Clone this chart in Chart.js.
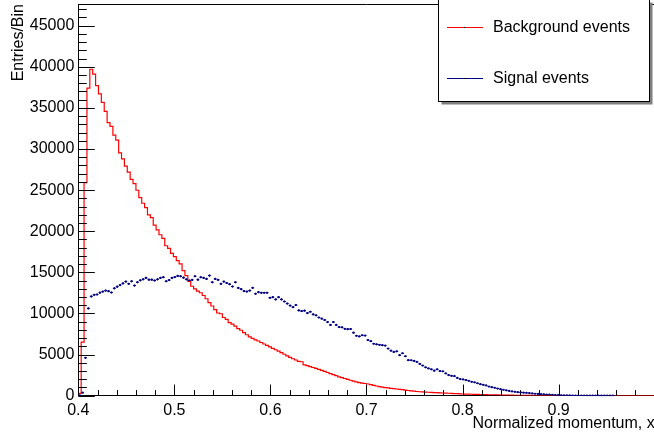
<!DOCTYPE html>
<html>
<head>
<meta charset="utf-8">
<script src="https://cdn.jsdelivr.net/npm/chart.js@4.4.1/dist/chart.umd.min.js"></script>
<style>
  html, body { margin: 0; padding: 0; background: #fff; overflow: hidden; }
  #wrap { width: 654px; height: 436px; overflow: hidden; }
  canvas { display: block; }
</style>
</head>
<body>
<div id="wrap"><canvas id="momentum" width="660" height="436"></canvas></div>
<script>
// 200 bins between 0.4 and 1.0
const binLow = 0.4;
const binHigh = 1.0;
const nBins = 200;

const background = [
  280, 6500, 25900, 37400, 39700, 39100, 37700, 36700, 35670, 34580,
  33200, 32760, 31700, 31070, 29530, 28800, 27920, 27190, 26310, 25780,
  24980, 24080, 23400, 22870, 21990, 21660, 20740, 20170, 19570, 19120,
  18230, 17910, 17300, 16900, 16420, 16020, 15210, 14600, 13900, 13300,
  12990, 12700, 12510, 12180, 11780, 11300, 10900, 10450, 10050, 9960,
  9500, 9270, 8870, 8700, 8450, 8150, 7950, 7650, 7400, 7150,
  6950, 6780, 6640, 6460, 6280, 6100, 5930, 5750, 5580, 5400,
  5220, 5030, 4830, 4640, 4480, 4330, 4170, 4120, 3750, 3640,
  3530, 3420, 3300, 3190, 3070, 2940, 2810, 2680, 2550, 2420,
  2290, 2180, 2080, 1970, 1870, 1770, 1670, 1580, 1520, 1470,
  1410, 1340, 1250, 1170, 1090, 1030, 980, 930, 870, 840,
  800, 760, 720, 670, 620, 580, 540, 500, 470, 450,
  430, 410, 390, 370, 350, 330, 315, 300, 285, 270,
  250, 230, 210, 195, 185, 175, 165, 155, 145, 135,
  125, 115, 105, 95, 88, 80, 72, 65, 58, 52,
  46, 40, 35, 30, 26, 22, 19, 16, 13, 11,
  9, 7, 6, 5, 4, 3, 2, 2, 1, 1,
  1, 0, 0, 0, 0, 0, 0, 0, 0, 0,
  0, 0, 0, 0, 0, 0, 0, 0, 0, 0,
  0, 0, 0, 0, 0, 0, 0, 0, 0, 0
];

const signal = [
  30, 350, 4600, 10600, 12060, 12260, 12300, 12520, 12650, 12780,
  12700, 12540, 13050, 13250, 13450, 13650, 13870, 13600, 13910, 13390,
  13790, 14020, 14150, 14320, 14100, 14100, 14000, 14150, 14320, 14400,
  13910, 14050, 14320, 14420, 14560, 14520, 14350, 14150, 14000, 14080,
  14520, 14100, 14400, 14320, 14200, 14600, 13790, 14200, 14080, 13600,
  13870, 13700, 13550, 13270, 13790, 13100, 12950, 12720, 12660, 12780,
  13110, 12390, 12580, 12510, 12510, 12510, 11900, 11970, 11700, 11970,
  11700, 11450, 11200, 10950, 10760, 11010, 10360, 10280, 10330, 10040,
  10200, 9880, 9760, 9500, 9360, 9200, 8950, 8600, 8950, 8600,
  8340, 8300, 8120, 8080, 8100, 7650, 7280, 7200, 7340, 7300,
  6750, 6620, 6310, 6240, 6180, 6130, 6080, 5720, 5460, 5310,
  5390, 4920, 5150, 4790, 4310, 4300, 4220, 4100, 3850, 3650,
  3440, 3310, 3200, 3030, 3200, 2980, 2950, 2700, 2500, 2400,
  2370, 2150, 2010, 1970, 1890, 1800, 1680, 1610, 1500, 1390,
  1310, 1240, 1100, 1020, 950, 860, 780, 710, 640, 570,
  510, 465, 420, 390, 360, 335, 310, 265, 225, 200,
  180, 165, 135, 110, 90, 70, 50, 38, 30, 24,
  19, 15, 12, 10, 8, 6, 5, 4, 3, 3,
  2, 2, 1, 1, 1, 1, 0, 0, 0, 0,
  0, 0, 0, 0, 0, 0, 0, 0, 0, 0
];

const seriesNames = ['Background events', 'Signal events'];
const seriesColors = ['#ff0000', '#000080'];

const xTicks = [0.4, 0.5, 0.6, 0.7, 0.8, 0.9];
const yTicks = [0, 5000, 10000, 15000, 20000, 25000, 30000, 35000, 40000, 45000];

const FONT = '"Liberation Sans", Arial, Helvetica, sans-serif';
const binWidth = (binHigh - binLow) / nBins;
const edge = i => binLow + i * binWidth;
const yMax = Math.max(...background) * 1.2;

// histogram outline: one point per low bin edge, stepped to the right
const bgSteps = [{ x: binLow, y: 0 }];
background.forEach((v, i) => bgSteps.push({ x: edge(i), y: v }));
bgSteps.push({ x: binHigh, y: background[nBins - 1] });

const sigPoints = signal.map((v, i) => ({ x: edge(i) + binWidth / 2, y: v > 0 ? v : null }));

// no extra room for half-labels at the scale ends
const noEndPadding = s => {
  s.paddingTop = 0;
  s.paddingBottom = 0;
  s.paddingLeft = 0;
  s.paddingRight = 0;
};

// inward ticks + frame, ROOT style
const frame = {
  id: 'frame',
  afterDatasetsDraw(chart) {
    const { ctx, chartArea: a, scales: { x, y } } = chart;
    ctx.save();
    ctx.strokeStyle = '#000';
    ctx.lineWidth = 1;
    ctx.beginPath();
    const top = Math.round(a.top) + 0.5;
    ctx.moveTo(a.left, top);
    ctx.lineTo(a.right, top);
    for (let k = 0; k <= 30; k++) {
      const px = Math.round(x.getPixelForValue(binLow + k * 0.02)) + 0.5;
      const len = k % 5 === 0 ? 11 : 5.5;
      ctx.moveTo(px, a.bottom);
      ctx.lineTo(px, a.bottom - len);
    }
    for (let v = 0; v <= yMax; v += 1000) {
      const py = Math.round(y.getPixelForValue(v)) + 0.5;
      const len = v % 5000 === 0 ? 16.5 : 8.5;
      ctx.moveTo(a.left, py);
      ctx.lineTo(a.left + len, py);
    }
    ctx.stroke();
    ctx.restore();
  }
};

// error bars for the signal points: full bin width, +-sqrt(N)
const errorBars = {
  id: 'errorBars',
  afterDatasetsDraw(chart) {
    const { ctx, scales: { x, y } } = chart;
    ctx.save();
    ctx.strokeStyle = seriesColors[1];
    ctx.lineWidth = 1;
    ctx.beginPath();
    signal.forEach((v, i) => {
      if (v <= 0) return;
      const e = Math.sqrt(v);
      const cx = x.getPixelForValue(edge(i) + binWidth / 2);
      const cy = y.getPixelForValue(v);
      ctx.moveTo(x.getPixelForValue(edge(i)), cy);
      ctx.lineTo(x.getPixelForValue(edge(i + 1)), cy);
      ctx.moveTo(cx, y.getPixelForValue(Math.max(0, v - e)));
      ctx.lineTo(cx, y.getPixelForValue(v + e));
    });
    ctx.stroke();
    ctx.restore();
  }
};

const legendBox = {
  id: 'legendBox',
  afterDraw(chart) {
    const { ctx } = chart;
    const bx = 438.5, by = -0.5, bw = 211, bh = 102;
    ctx.save();
    ctx.fillStyle = '#7f7f7f';
    ctx.fillRect(bx + 3, by + 3, bw, bh);
    ctx.fillStyle = '#fff';
    ctx.fillRect(bx, by, bw, bh);
    ctx.strokeStyle = '#000';
    ctx.lineWidth = 1;
    ctx.strokeRect(bx, by, bw, bh);
    ctx.font = '16px ' + FONT;
    ctx.textBaseline = 'middle';
    chart.data.datasets.forEach((ds, i) => {
      const ly = [27, 78][i];
      ctx.fillStyle = seriesColors[i];
      ctx.fillRect(447, ly, 36, 1);
      ctx.fillStyle = '#000';
      ctx.fillRect(464, ly, 1, 1);
      ctx.fillText(ds.label, 493, ly + 0.5);
    });
    ctx.restore();
  }
};

new Chart(document.getElementById('momentum'), {
  type: 'line',
  data: {
    datasets: [{
      label: seriesNames[0],
      data: bgSteps,
      borderColor: seriesColors[0],
      borderWidth: 1.2,
      stepped: 'before',
      pointRadius: 0,
      fill: false
    }, {
      label: seriesNames[1],
      data: sigPoints,
      borderColor: seriesColors[1],
      backgroundColor: seriesColors[1],
      showLine: false,
      pointRadius: 1.1,
      pointBorderWidth: 0
    }]
  },
  options: {
    responsive: false,
    animation: false,
    devicePixelRatio: 1,
    layout: { padding: { top: 1.7, right: 5.3, left: 0, bottom: 0 } },
    plugins: { legend: { display: false }, tooltip: { enabled: false } },
    scales: {
      x: {
        type: 'linear',
        min: binLow,
        max: binHigh,
        grid: { display: false, drawTicks: false },
        border: { display: true, color: '#000', width: 1 },
        afterBuildTicks: s => { s.ticks = xTicks.map(v => ({ value: v })); },
        afterFit: s => { s.height = 40.4; noEndPadding(s); },
        ticks: {
          color: '#000',
          padding: 5,
          maxRotation: 0,
          autoSkip: false,
          font: { family: FONT, size: 16 },
          callback: v => v.toFixed(1)
        },
        title: {
          display: true,
          text: 'Normalized momentum, x',
          align: 'end',
          color: '#000',
          padding: { top: 0, bottom: 3 },
          font: { family: FONT, size: 16 }
        }
      },
      y: {
        min: 0,
        max: yMax,
        grid: { display: false, drawTicks: false },
        border: { display: true, color: '#000', width: 1 },
        afterBuildTicks: s => { s.ticks = yTicks.map(v => ({ value: v })); },
        afterFit: s => { s.width = 78.3; noEndPadding(s); },
        ticks: {
          color: '#000',
          padding: 4,
          autoSkip: false,
          font: { family: FONT, size: 16 },
          callback: v => String(v)
        },
        title: {
          display: true,
          text: 'Entries/Bin',
          align: 'end',
          color: '#000',
          padding: { top: 9, bottom: 0 },
          font: { family: FONT, size: 16 }
        }
      }
    }
  },
  plugins: [frame, errorBars, legendBox]
});
</script>
</body>
</html>
